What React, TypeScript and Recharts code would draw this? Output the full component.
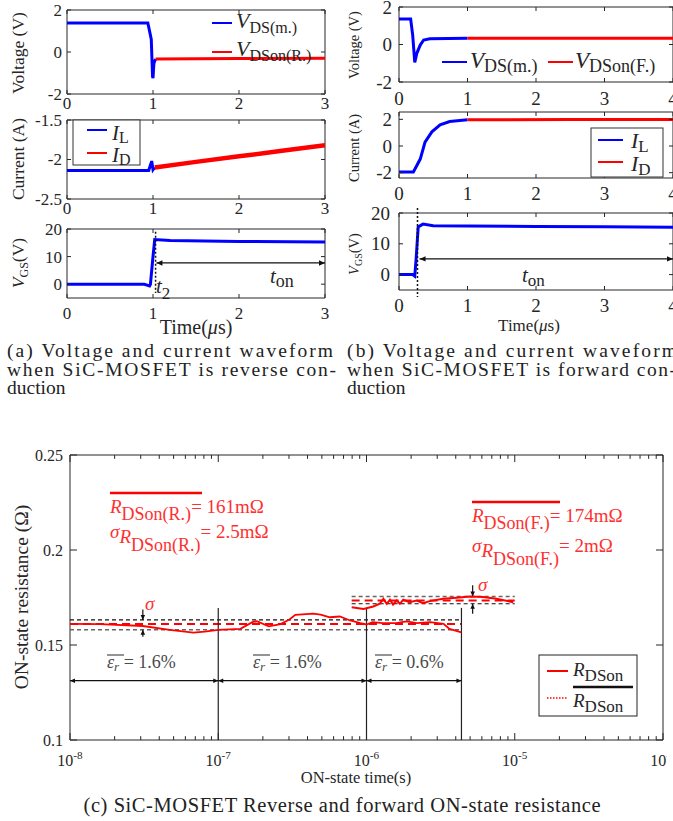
import React from 'react';
import { LineChart, Line, XAxis, YAxis, ReferenceLine, ReferenceArea } from 'recharts';

const FONT = '"Liberation Serif", "Times New Roman", serif';
const INK = '#262626';
const BLUE = '#0000ff';
const RED = '#ff0000';
const PINK = '#ff3030';

type Pt = { t: number; v: number };
type Box = { x: number; y: number; w: number; h: number };

// (a) reverse conduction, time in us
const revTimeTicks = [0, 1, 2, 3];
const revVdsMeas: Pt[] = [
  { t: 0, v: 1.38 }, { t: 0.5, v: 1.38 }, { t: 0.94, v: 1.38 }, { t: 0.965, v: 0.9 },
  { t: 0.98, v: 0.6 }, { t: 0.995, v: -1.18 }, { t: 1.0, v: -1.24 }, { t: 1.01, v: -0.55 }, { t: 1.03, v: -0.33 },
];
const revVdsOn: Pt[] = [{ t: 1.03, v: -0.33 }, { t: 2, v: -0.31 }, { t: 3, v: -0.3 }];
const revIL: Pt[] = [
  { t: 0, v: -2.14 }, { t: 0.5, v: -2.14 }, { t: 0.95, v: -2.14 }, { t: 0.985, v: -2.02 },
  { t: 1.0, v: -2.13 }, { t: 1.02, v: -2.1 },
];
const revID: Pt[] = [
  { t: 1.02, v: -2.1 }, { t: 1.5, v: -2.03 }, { t: 2, v: -1.96 }, { t: 2.5, v: -1.89 }, { t: 3, v: -1.82 },
];
const revVgs: Pt[] = [
  { t: 0, v: 0 }, { t: 0.9, v: 0 }, { t: 0.96, v: -0.6 }, { t: 0.97, v: 0 }, { t: 1.0, v: 10 },
  { t: 1.02, v: 16.2 }, { t: 1.2, v: 15.8 }, { t: 2, v: 15.5 }, { t: 3, v: 15.3 },
];

// (b) forward conduction, time in us
const fwdTimeTicks = [0, 1, 2, 3, 4];
const fwdVdsMeas: Pt[] = [
  { t: 0, v: 1.36 }, { t: 0.17, v: 1.36 }, { t: 0.2, v: 0.5 }, { t: 0.23, v: -0.95 }, { t: 0.26, v: -0.47 },
  { t: 0.31, v: -0.03 }, { t: 0.36, v: 0.24 }, { t: 0.45, v: 0.31 }, { t: 1, v: 0.33 },
];
const fwdVdsOn: Pt[] = [{ t: 1, v: 0.33 }, { t: 2.5, v: 0.33 }, { t: 4, v: 0.33 }];
const fwdIL: Pt[] = [
  { t: 0, v: -1.95 }, { t: 0.2, v: -1.95 }, { t: 0.21, v: -1.95 }, { t: 0.31, v: -0.98 }, { t: 0.38, v: 0.29 },
  { t: 0.48, v: 1.06 }, { t: 0.6, v: 1.58 }, { t: 0.74, v: 1.83 }, { t: 1, v: 1.96 },
];
const fwdID: Pt[] = [{ t: 1, v: 1.96 }, { t: 2.5, v: 1.98 }, { t: 4, v: 1.98 }];
const fwdVgs: Pt[] = [
  { t: 0, v: 0 }, { t: 0.2, v: 0 }, { t: 0.23, v: -0.5 }, { t: 0.25, v: 5 }, { t: 0.28, v: 15.5 },
  { t: 0.35, v: 16.4 }, { t: 0.5, v: 15.9 }, { t: 1, v: 15.8 }, { t: 2, v: 15.6 }, { t: 3, v: 15.5 }, { t: 4, v: 15.4 },
];

// (c) ON-state resistance vs ON-state time (s)
const logMajor = [1e-8, 1e-7, 1e-6, 1e-5, 1e-4];
const logMinorMult = [2, 3, 4, 5, 6, 7, 8, 9];
const resTicks = [0.1, 0.15, 0.2, 0.25];
const rdsRev: Pt[] = [
  { t: 1e-8, v: 0.1611 }, { t: 1.6e-8, v: 0.161 }, { t: 3.1e-8, v: 0.16 }, { t: 4.7e-8, v: 0.158 },
  { t: 6.8e-8, v: 0.1565 }, { t: 8.1e-8, v: 0.157 }, { t: 1e-7, v: 0.158 }, { t: 1.41e-7, v: 0.1585 },
  { t: 1.7e-7, v: 0.162 }, { t: 1.82e-7, v: 0.1625 }, { t: 2.19e-7, v: 0.1598 }, { t: 2.63e-7, v: 0.161 },
  { t: 3.02e-7, v: 0.1634 }, { t: 3.31e-7, v: 0.1659 }, { t: 4.37e-7, v: 0.1665 }, { t: 4.9e-7, v: 0.166 },
  { t: 5.66e-7, v: 0.1646 }, { t: 6.6e-7, v: 0.165 }, { t: 7.76e-7, v: 0.1629 }, { t: 9.1e-7, v: 0.1615 },
  { t: 1e-6, v: 0.1608 }, { t: 1.1e-6, v: 0.162 }, { t: 1.29e-6, v: 0.1615 }, { t: 1.58e-6, v: 0.1615 },
  { t: 1.86e-6, v: 0.1624 }, { t: 2.19e-6, v: 0.1615 }, { t: 2.69e-6, v: 0.162 }, { t: 3.31e-6, v: 0.1611 },
  { t: 3.63e-6, v: 0.1585 }, { t: 4.37e-6, v: 0.1567 },
];
const rdsFwd: Pt[] = [
  { t: 7.94e-7, v: 0.1699 }, { t: 9.55e-7, v: 0.169 }, { t: 1.11e-6, v: 0.1703 }, { t: 1.23e-6, v: 0.1717 },
  { t: 1.3e-6, v: 0.1743 }, { t: 1.37e-6, v: 0.1717 }, { t: 1.44e-6, v: 0.1738 }, { t: 1.51e-6, v: 0.1713 },
  { t: 1.6e-6, v: 0.1734 }, { t: 1.68e-6, v: 0.1717 }, { t: 1.77e-6, v: 0.1738 }, { t: 1.95e-6, v: 0.1725 },
  { t: 2.18e-6, v: 0.1734 }, { t: 2.41e-6, v: 0.172 }, { t: 2.67e-6, v: 0.1731 }, { t: 3.29e-6, v: 0.1743 },
  { t: 4.05e-6, v: 0.1749 }, { t: 4.98e-6, v: 0.1755 }, { t: 6.12e-6, v: 0.1752 }, { t: 7.53e-6, v: 0.1743 },
  { t: 9.77e-6, v: 0.1725 },
];
// mean +/- sigma levels: upper, mean, lower
const revSpan = [1e-8, 4.37e-6];
const revLevels = [0.1632, 0.161, 0.158];
const fwdSpan = [7.94e-7, 1e-5];
const fwdLevels = [0.1755, 0.1734, 0.1717];
const errSpans = [[1e-8, 1e-7], [1e-7, 1e-6], [1e-6, 4.37e-6]];
const errLevel = 0.1312;
const errLabels = ['1.6%', '1.6%', '0.6%'];
const splitTimes = [1e-7, 1e-6, 4.37e-6];
const splitTop = 0.1695;

const PL = 60, PR = 4, PT = 16, PB = 40;

const xTick = (plotH: number, size: number, drop: number, len: number, log = false) => (p: any) => {
  const { x, y, payload } = p;
  const v = payload.value;
  const lg = Math.log10(v);
  const major = !log || Math.abs(lg - Math.round(lg)) < 1e-6;
  const L = major ? len : len * 0.55;
  return (
    <g>
      <line x1={x} x2={x} y1={y} y2={y - L} stroke={INK} />
      <line x1={x} x2={x} y1={y - plotH} y2={y - plotH + L} stroke={INK} />
      {major && (
        <text x={x} y={y + drop} textAnchor="middle" fontSize={size} fontFamily={FONT} fill={INK}>
          {log ? (<><tspan>10</tspan><tspan dy={-7} fontSize={size * 0.7}>{Math.round(lg)}</tspan></>) : v}
        </text>
      )}
    </g>
  );
};

const yTick = (plotW: number, size: number, gap: number, len: number) => (p: any) => {
  const { x, y, payload } = p;
  return (
    <g>
      <line x1={x} x2={x + len} y1={y} y2={y} stroke={INK} />
      <line x1={x + plotW} x2={x + plotW - len} y1={y} y2={y} stroke={INK} />
      <text x={x - gap} y={y + size * 0.35} textAnchor="end" fontSize={size} fontFamily={FONT} fill={INK}>{payload.value}</text>
    </g>
  );
};

const arrowShape = (start: boolean, end: boolean, head = 6) => (p: any) => {
  const { x1, y1, x2, y2 } = p;
  const d = Math.hypot(x2 - x1, y2 - y1) || 1;
  const ux = (x2 - x1) / d, uy = (y2 - y1) / d, w = head * 0.45;
  const tri = (x: number, y: number, sx: number, sy: number) =>
    `${x},${y} ${x - sx * head - sy * w},${y - sy * head + sx * w} ${x - sx * head + sy * w},${y - sy * head - sx * w}`;
  return (
    <g>
      <line x1={x1} y1={y1} x2={x2} y2={y2} stroke="#111" strokeWidth={1.2} />
      {end && <polygon points={tri(x2, y2, ux, uy)} fill="#111" />}
      {start && <polygon points={tri(x1, y1, -ux, -uy)} fill="#111" />}
    </g>
  );
};

function Panel(props: {
  box: Box; xDomain: number[]; xTicks: number[]; yDomain: number[]; yTicks: number[];
  tickFont: number; xDrop: number; yGap: number; len?: number; log?: boolean; children?: React.ReactNode;
}) {
  const { box, xDomain, yDomain, len = 4 } = props;
  return (
    <div style={{ position: 'absolute', left: box.x - PL, top: box.y - PT }}>
      <LineChart width={box.w + PL + PR} height={box.h + PT + PB} margin={{ top: PT, right: PR, left: 0, bottom: 0 }}>
        <XAxis type="number" dataKey="t" scale={props.log ? 'log' : 'linear'} domain={xDomain} ticks={props.xTicks}
          interval={0} allowDataOverflow height={PB} axisLine={false} tickLine={false} tickSize={0} tickMargin={0}
          tick={xTick(box.h, props.tickFont, props.xDrop, len, props.log)} />
        <YAxis type="number" domain={yDomain} ticks={props.yTicks} interval={0} allowDataOverflow width={PL}
          axisLine={false} tickLine={false} tickSize={0} tickMargin={0}
          tick={yTick(box.w, props.tickFont, props.yGap, len)} />
        <ReferenceArea x1={xDomain[0]} x2={xDomain[1]} y1={yDomain[0]} y2={yDomain[1]} fill="none" fillOpacity={0}
          stroke={INK} strokeWidth={1} ifOverflow="visible" />
        {props.children}
      </LineChart>
    </div>
  );
}

const trace = (data: Pt[], color: string, width = 3, key?: string) => (
  <Line key={key} data={data} dataKey="v" type="linear" stroke={color} strokeWidth={width} dot={false}
    isAnimationActive={false} />
);

const logTicks = [...logMajor, ...logMajor.slice(0, 4).flatMap((d) => logMinorMult.map((m) => m * d))];

function Sub({ x, y, main, sub, size, subSize, fill = INK, drop = 5, italic = true, rest }: any) {
  return (
    <text x={x} y={y} fontFamily={FONT} fontSize={size} fill={fill}>
      <tspan fontStyle={italic ? 'italic' : 'normal'}>{main}</tspan>
      <tspan fontSize={subSize} dy={drop}>{sub}</tspan>
      {rest && <tspan dy={-drop}>{rest}</tspan>}
    </text>
  );
}

function Overlay() {
  const cap = { fontFamily: FONT, fontSize: 19.5, fill: '#222' };
  return (
    <svg width={673} height={821} style={{ position: 'absolute', left: 0, top: 0, pointerEvents: 'none' }}>
      {/* left axis titles */}
      <text transform="translate(24,53) rotate(-90)" textAnchor="middle" fontFamily={FONT} fontSize={17.5} fill={INK}>Voltage (V)</text>
      <text transform="translate(24,159) rotate(-90)" textAnchor="middle" fontFamily={FONT} fontSize={17.5} fill={INK}>Current (A)</text>
      <text transform="translate(24,263) rotate(-90)" textAnchor="middle" fontFamily={FONT} fontSize={17.5} fill={INK}>
        <tspan fontStyle="italic">V</tspan><tspan fontSize={12} dy={4}>GS</tspan><tspan dy={-4}>(V)</tspan>
      </text>
      <text x={196} y={334} textAnchor="middle" fontFamily={FONT} fontSize={20} fill={INK}>Time(<tspan fontStyle="italic">μ</tspan>s)</text>
      {/* right axis titles */}
      <text transform="translate(359,45) rotate(-90)" textAnchor="middle" fontFamily={FONT} fontSize={14.5} fill={INK}>Voltage (V)</text>
      <text transform="translate(359,148) rotate(-90)" textAnchor="middle" fontFamily={FONT} fontSize={14.5} fill={INK}>Current (A)</text>
      <text transform="translate(359,254) rotate(-90)" textAnchor="middle" fontFamily={FONT} fontSize={14.5} fill={INK}>
        <tspan fontStyle="italic">V</tspan><tspan fontSize={10} dy={3}>GS</tspan><tspan dy={-3}>(V)</tspan>
      </text>
      <text x={529} y={331} textAnchor="middle" fontFamily={FONT} fontSize={17} fill={INK}>Time(<tspan fontStyle="italic">μ</tspan>s)</text>

      {/* legends (a) */}
      <line x1={212} x2={232} y1={23} y2={23} stroke={BLUE} strokeWidth={2} />
      <Sub x={236} y={28} main="V" sub="DS(m.)" size={22} subSize={16} />
      <line x1={212} x2={232} y1={52} y2={52} stroke={RED} strokeWidth={2} />
      <Sub x={236} y={56} main="V" sub="DSon(R.)" size={22} subSize={16} />
      <rect x={73} y={120} width={67} height={45} fill="#fff" stroke="#333" />
      <line x1={87} x2={107} y1={130} y2={130} stroke={BLUE} strokeWidth={2} />
      <Sub x={112} y={140} main="I" sub="L" size={21} subSize={16} drop={3} />
      <line x1={87} x2={107} y1={153} y2={153} stroke={RED} strokeWidth={2} />
      <Sub x={112} y={162} main="I" sub="D" size={21} subSize={16} drop={3} />
      <Sub x={156} y={293} main="t" sub="2" size={21} subSize={17} drop={6} />
      <Sub x={270} y={283} main="t" sub="on" size={21} subSize={18} drop={4} />

      {/* legends (b) */}
      <line x1={442} x2={467} y1={62} y2={62} stroke={BLUE} strokeWidth={2} />
      <Sub x={470} y={68} main="V" sub="DS(m.)" size={23} subSize={18} drop={4} />
      <line x1={548} x2={573} y1={62} y2={62} stroke={RED} strokeWidth={2} />
      <Sub x={575} y={68} main="V" sub="DSon(F.)" size={23} subSize={18} drop={4} />
      <rect x={591} y={128} width={72} height={49} fill="#fff" stroke="#333" />
      <line x1={598} x2={623} y1={140} y2={140} stroke={BLUE} strokeWidth={2} />
      <Sub x={631} y={148} main="I" sub="L" size={22} subSize={17} drop={4} />
      <line x1={598} x2={623} y1={162} y2={162} stroke={RED} strokeWidth={2} />
      <Sub x={631} y={171} main="I" sub="D" size={22} subSize={17} drop={4} />
      <Sub x={522} y={282} main="t" sub="on" size={21} subSize={17} drop={4} />

      {/* captions */}
      <text x={7} y={357} textLength={326} lengthAdjust="spacing" {...cap}>(a) Voltage and current waveform</text>
      <text x={7} y={375.5} textLength={329} lengthAdjust="spacing" {...cap}>when SiC-MOSFET is reverse con-</text>
      <text x={7} y={394} {...cap}>duction</text>
      <text x={347} y={357} textLength={330} lengthAdjust="spacing" {...cap}>(b) Voltage and current waveform</text>
      <text x={347} y={375.5} textLength={329} lengthAdjust="spacing" {...cap}>when SiC-MOSFET is forward con-</text>
      <text x={347} y={394} {...cap}>duction</text>

      {/* (c) titles */}
      <text transform="translate(28,597) rotate(-90)" textAnchor="middle" fontFamily={FONT} fontSize={19.5} fill={INK}>ON-state resistance (Ω)</text>
      <text x={356} y={783} textAnchor="middle" fontFamily={FONT} fontSize={16.5} fill={INK}>ON-state time(s)</text>
      <text x={342} y={812} textAnchor="middle" textLength={517} lengthAdjust="spacing" fontFamily={FONT} fontSize={20.5} fill="#222">(c) SiC-MOSFET Reverse and forward ON-state resistance</text>

      {/* (c) annotations */}
      <line x1={110} x2={202} y1={493} y2={493} stroke={RED} strokeWidth={2.5} />
      <Sub x={110} y={513} main="R" sub="DSon(R.)" size={19} subSize={18} drop={7} rest="= 161mΩ" fill={PINK} />
      <text x={110} y={538} fontFamily={FONT} fontSize={19} fill={PINK}>
        <tspan fontStyle="italic">σ</tspan><tspan fontStyle="italic" dy={5}>R</tspan>
        <tspan fontSize={18} dy={8}>DSon(R.)</tspan><tspan dy={-13}>= 2.5mΩ</tspan>
      </text>
      <line x1={472} x2={560} y1={502} y2={502} stroke={RED} strokeWidth={2.5} />
      <Sub x={472} y={522} main="R" sub="DSon(F.)" size={19} subSize={18} drop={7} rest="= 174mΩ" fill={PINK} />
      <text x={472} y={552} fontFamily={FONT} fontSize={19} fill={PINK}>
        <tspan fontStyle="italic">σ</tspan><tspan fontStyle="italic" dy={5}>R</tspan>
        <tspan fontSize={18} dy={8}>DSon(F.)</tspan><tspan dy={-13}>= 2mΩ</tspan>
      </text>
      <text x={145} y={610} fontFamily={FONT} fontSize={19} fontStyle="italic" fill={PINK}>σ</text>
      <text x={478} y={591} fontFamily={FONT} fontSize={19} fontStyle="italic" fill={PINK}>σ</text>
      {[107, 253, 375].map((lx, i) => (
        <g key={lx}>
          <line x1={lx} x2={lx + 17} y1={655} y2={655} stroke="#4a4a4a" strokeWidth={1.2} />
          <text x={lx} y={668} fontFamily={FONT} fontSize={18} fill="#4a4a4a">
            <tspan fontStyle="italic">ε</tspan><tspan fontStyle="italic" fontSize={13} dy={3}>r</tspan>
            <tspan dy={-3}> = {errLabels[i]}</tspan>
          </text>
        </g>
      ))}
      {/* (c) legend */}
      <rect x={539} y={655} width={98} height={61} fill="#fff" stroke="#222" />
      <line x1={547} x2={568} y1={671} y2={671} stroke={RED} strokeWidth={2} />
      <Sub x={573} y={676} main="R" sub="DSon" size={19} subSize={17} drop={5} />
      <line x1={573} x2={633} y1={687} y2={687} stroke="#111" strokeWidth={2.5} />
      <line x1={547} x2={568} y1={698} y2={698} stroke={RED} strokeWidth={1.5} strokeDasharray="1.5 1.5" />
      <Sub x={573} y={707} main="R" sub="DSon" size={19} subSize={17} drop={5} />
    </svg>
  );
}

export default function App() {
  const levelStyle = [
    { stroke: '#111', width: 1.2, dash: '4 3' },
    { stroke: RED, width: 2, dash: '8 5' },
    { stroke: '#666', width: 1.6, dash: '4 3' },
  ];
  const fwdStyle = [levelStyle[2], levelStyle[1], levelStyle[0]];
  return (
    <div style={{ position: 'absolute', left: 0, top: 0, width: 673, height: 821, overflow: 'hidden', background: '#fff' }}>
      {/* (a) */}
      <Panel box={{ x: 67, y: 10, w: 258, h: 84 }} xDomain={[0, 3]} xTicks={revTimeTicks} yDomain={[-2, 2]} yTicks={[-2, 0, 2]}
        tickFont={17} xDrop={15} yGap={5}>
        {trace(revVdsMeas, BLUE)}
        {trace(revVdsOn, RED)}
      </Panel>
      <Panel box={{ x: 67, y: 120, w: 258, h: 79 }} xDomain={[0, 3]} xTicks={revTimeTicks} yDomain={[-2.5, -1.5]} yTicks={[-2.5, -2, -1.5]}
        tickFont={17} xDrop={15} yGap={5}>
        {trace(revIL, BLUE)}
        {trace(revID, RED, 4.5)}
      </Panel>
      <Panel box={{ x: 67, y: 229, w: 258, h: 69 }} xDomain={[0, 3]} xTicks={revTimeTicks} yDomain={[-5, 20]} yTicks={[0, 10, 20]}
        tickFont={17} xDrop={21} yGap={5}>
        {trace(revVgs, BLUE)}
        <ReferenceLine segment={[{ x: 1.03, y: 19 }, { x: 1.03, y: -3.2 }]} stroke="#111" strokeWidth={1.5} strokeDasharray="2 2" ifOverflow="visible" />
        <ReferenceLine segment={[{ x: 1.04, y: 7.7 }, { x: 3, y: 7.7 }]} shape={arrowShape(true, true)} ifOverflow="visible" />
      </Panel>

      {/* (b) */}
      <Panel box={{ x: 399, y: 7, w: 274, h: 75 }} xDomain={[0, 4]} xTicks={fwdTimeTicks} yDomain={[-2, 2]} yTicks={[-2, 0, 2]}
        tickFont={19} xDrop={23} yGap={7}>
        {trace(fwdVdsMeas, BLUE)}
        {trace(fwdVdsOn, RED)}
      </Panel>
      <Panel box={{ x: 399, y: 112, w: 274, h: 66 }} xDomain={[0, 4]} xTicks={fwdTimeTicks} yDomain={[-2.4, 2.55]} yTicks={[-2, 0, 2]}
        tickFont={19} xDrop={22} yGap={7}>
        {trace(fwdIL, BLUE)}
        {trace(fwdID, RED)}
      </Panel>
      <Panel box={{ x: 399, y: 213, w: 274, h: 77 }} xDomain={[0, 4]} xTicks={fwdTimeTicks} yDomain={[-5, 20]} yTicks={[0, 10, 20]}
        tickFont={19} xDrop={22} yGap={9}>
        {trace(fwdVgs, BLUE)}
        <ReferenceLine segment={[{ x: 0.27, y: 21.6 }, { x: 0.27, y: -7.3 }]} stroke="#111" strokeWidth={1.5} strokeDasharray="2 2" ifOverflow="visible" />
        <ReferenceLine segment={[{ x: 0.3, y: 5.1 }, { x: 4, y: 5.1 }]} shape={arrowShape(true, true)} ifOverflow="visible" />
      </Panel>

      {/* (c) */}
      <Panel box={{ x: 70, y: 455, w: 593, h: 285 }} log xDomain={[1e-8, 1e-4]} xTicks={logTicks} yDomain={[0.1, 0.25]} yTicks={resTicks}
        tickFont={16} xDrop={26} yGap={7} len={7}>
        {revLevels.map((lv, i) => (
          <ReferenceLine key={`r${i}`} segment={[{ x: revSpan[0], y: lv }, { x: revSpan[1], y: lv }]}
            stroke={levelStyle[i].stroke} strokeWidth={levelStyle[i].width} strokeDasharray={levelStyle[i].dash} ifOverflow="visible" />
        ))}
        {fwdLevels.map((lv, i) => (
          <ReferenceLine key={`f${i}`} segment={[{ x: fwdSpan[0], y: lv }, { x: fwdSpan[1], y: lv }]}
            stroke={fwdStyle[i].stroke} strokeWidth={fwdStyle[i].width} strokeDasharray={fwdStyle[i].dash} ifOverflow="visible" />
        ))}
        {splitTimes.map((st) => (
          <ReferenceLine key={`s${st}`} segment={[{ x: st, y: splitTop }, { x: st, y: 0.1 }]} stroke="#222" strokeWidth={1.2} ifOverflow="visible" />
        ))}
        {errSpans.map((sp, i) => (
          <ReferenceLine key={`e${i}`} segment={[{ x: sp[0], y: errLevel }, { x: sp[1], y: errLevel }]}
            shape={arrowShape(true, true, 5)} ifOverflow="visible" />
        ))}
        <ReferenceLine segment={[{ x: 3.1e-8, y: 0.1687 }, { x: 3.1e-8, y: revLevels[0] }]} shape={arrowShape(false, true, 5)} ifOverflow="visible" />
        <ReferenceLine segment={[{ x: 3.1e-8, y: 0.1544 }, { x: 3.1e-8, y: revLevels[2] }]} shape={arrowShape(false, true, 5)} ifOverflow="visible" />
        <ReferenceLine segment={[{ x: 5.2e-6, y: 0.1814 }, { x: 5.2e-6, y: fwdLevels[0] }]} shape={arrowShape(false, true, 5)} ifOverflow="visible" />
        <ReferenceLine segment={[{ x: 5.2e-6, y: 0.1664 }, { x: 5.2e-6, y: fwdLevels[2] }]} shape={arrowShape(false, true, 5)} ifOverflow="visible" />
        {trace(rdsRev, RED, 1.8)}
        {trace(rdsFwd, RED, 2)}
      </Panel>

      <Overlay />
    </div>
  );
}
